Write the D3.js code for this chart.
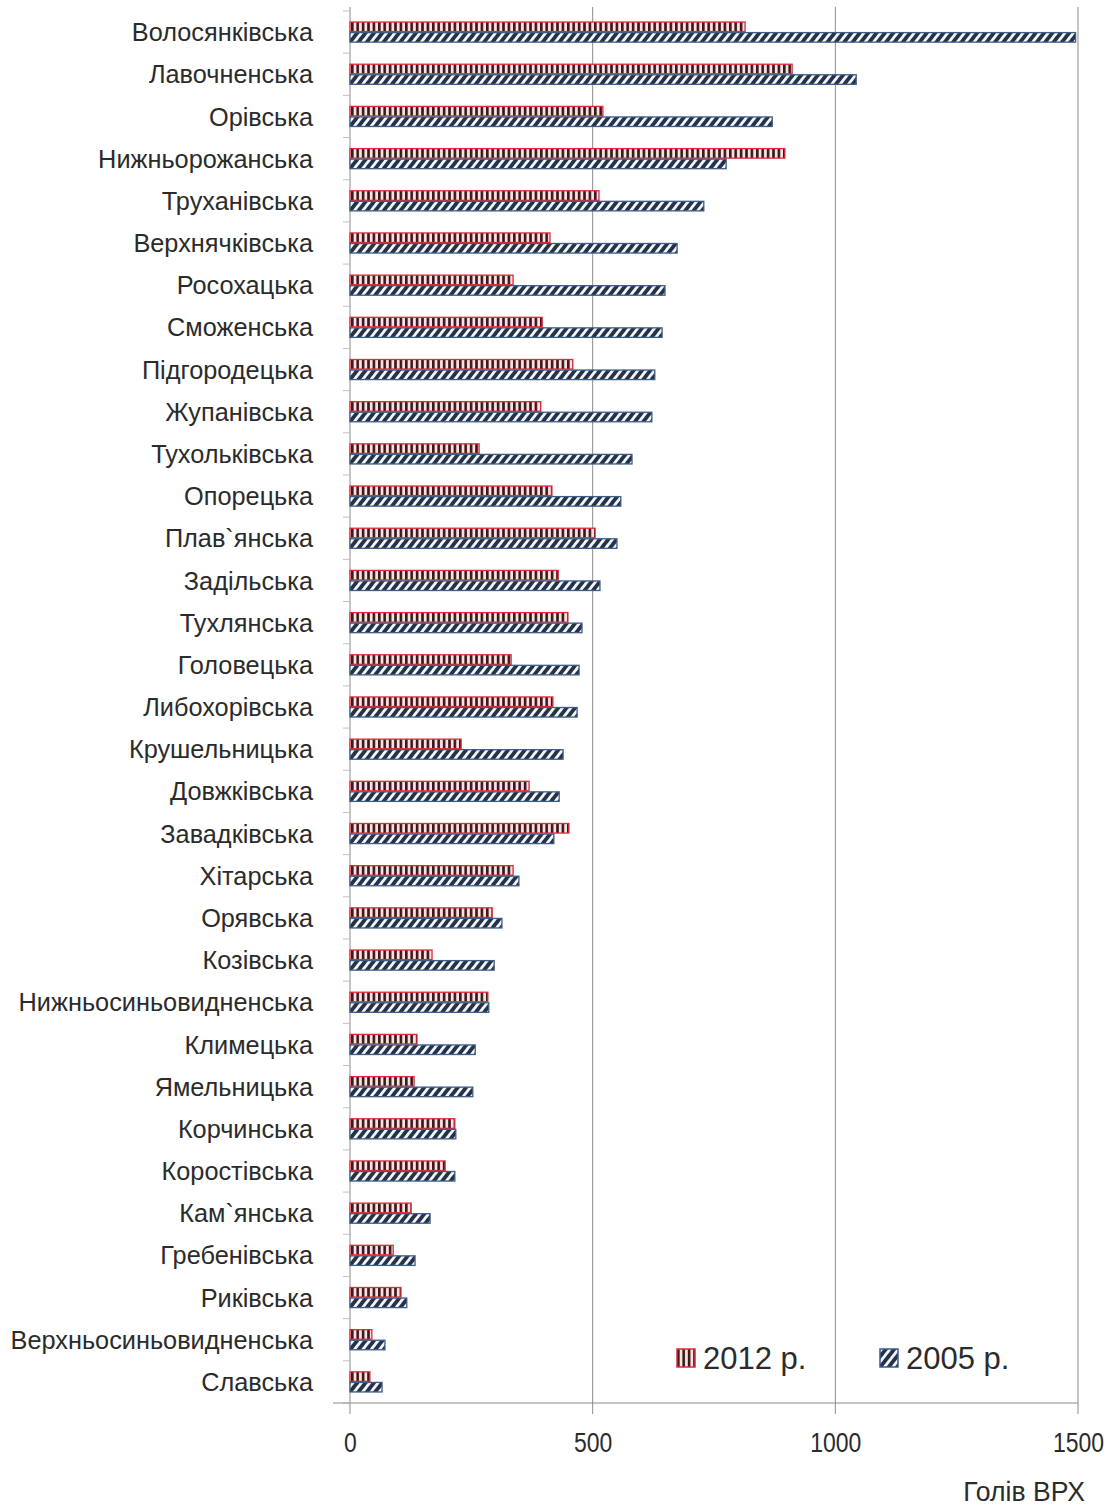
<!DOCTYPE html>
<html>
<head>
<meta charset="utf-8">
<script src="https://cdn.jsdelivr.net/npm/d3@7"></script>
<style>
  html, body { margin: 0; padding: 0; background: #fff; }
  svg { display: block; }
</style>
</head>
<body>
<svg id="chart" width="1117" height="1508"></svg>
<script>
// Village councils (сільради), head of cattle in 2012 and 2005
const councils = [
  "Волосянківська", "Лавочненська", "Орівська", "Нижньорожанська", "Труханівська",
  "Верхнячківська", "Росохацька", "Сможенська", "Підгородецька", "Жупанівська",
  "Тухольківська", "Опорецька", "Плав`янська", "Задільська", "Тухлянська",
  "Головецька", "Либохорівська", "Крушельницька", "Довжківська", "Завадківська",
  "Хітарська", "Орявська", "Козівська", "Нижньосиньовидненська", "Климецька",
  "Ямельницька", "Корчинська", "Коростівська", "Кам`янська", "Гребенівська",
  "Риківська", "Верхньосиньовидненська", "Славська"
];
const values2012 = [
  814, 911, 521, 896, 513,
  412, 336, 396, 459, 393,
  266, 416, 505, 429, 449,
  332, 418, 229, 369, 451,
  336, 293, 169, 284, 138,
  132, 216, 196, 126, 89,
  105, 45, 41
];
const values2005 = [
  1495, 1043, 870, 775, 729,
  674, 649, 643, 628, 622,
  581, 558, 550, 515, 478,
  472, 468, 439, 431, 420,
  348, 313, 297, 286, 258,
  253, 218, 216, 165, 134,
  117, 72, 66
];
const seriesKeys = ["2012", "2005"];
const seriesLabels = ["2012 р.", "2005 р."];
const xTicks = [0, 500, 1000, 1500];
const axisTitle = "Голів ВРХ";

const rows = councils.map((name, i) => ({ name, "2012": values2012[i], "2005": values2005[i] }));

const svg = d3.select("#chart");
const plot = { left: 350, right: 1078, top: 11, bottom: 1403 };
const font = "'Liberation Sans', Arial, sans-serif";

const x = d3.scaleLinear().domain([0, 1500]).range([plot.left, plot.right]);
const y = d3.scaleBand().domain(councils).range([plot.top, plot.bottom])
  .paddingInner(0.5).paddingOuter(0.25);
const ySub = d3.scaleBand().domain(seriesKeys).range([0, y.bandwidth()]);

// Fill patterns: vertical bars for 2012, diagonal hatch for 2005
const defs = svg.append("defs");
const pv = defs.append("pattern").attr("id", "pat2012")
  .attr("patternUnits", "userSpaceOnUse").attr("width", 5.4).attr("height", 10);
pv.append("rect").attr("width", 5.4).attr("height", 10).attr("fill", "#f6e1e3");
pv.append("rect").attr("x", 0).attr("width", 2.6).attr("height", 10).attr("fill", "#3d1619");

const pd = defs.append("pattern").attr("id", "pat2005")
  .attr("patternUnits", "userSpaceOnUse").attr("width", 6.6).attr("height", 10)
  .attr("patternTransform", "rotate(38)");
pd.append("rect").attr("width", 6.6).attr("height", 10).attr("fill", "#24334a");
pd.append("rect").attr("x", 0).attr("width", 2.8).attr("height", 10).attr("fill", "#f4f6fa");

const fills = { "2012": "url(#pat2012)", "2005": "url(#pat2005)" };
const strokes = { "2012": "#e2283a", "2005": "#3d5c86" };

// Vertical gridlines at each tick
svg.append("g").selectAll("line").data(xTicks.slice(1)).join("line")
  .attr("x1", d => x(d)).attr("x2", d => x(d))
  .attr("y1", plot.top - 4).attr("y2", plot.bottom + 11)
  .attr("stroke", "#8c8c8c").attr("stroke-width", 1);

// Category axis (left) with short ticks on band boundaries
const yAxisG = svg.append("g");
yAxisG.append("line")
  .attr("x1", plot.left).attr("x2", plot.left)
  .attr("y1", plot.top - 4).attr("y2", plot.bottom + 11)
  .attr("stroke", "#8c8c8c");
const boundaries = councils.map(c => y(c) - y.step() * y.paddingInner() / 2);
boundaries.push(plot.bottom);
yAxisG.selectAll("line.tk").data(boundaries).join("line").attr("class", "tk")
  .attr("x1", plot.left - 7).attr("x2", plot.left)
  .attr("y1", d => d).attr("y2", d => d)
  .attr("stroke", "#b8c4cc");

// Bars
const groups = svg.append("g").selectAll("g").data(rows).join("g")
  .attr("transform", d => `translate(0,${y(d.name)})`);
groups.selectAll("rect").data(d => seriesKeys.map(k => ({ key: k, value: d[k] }))).join("rect")
  .attr("x", x(0))
  .attr("y", d => ySub(d.key) + 0.5)
  .attr("width", d => x(d.value) - x(0))
  .attr("height", ySub.bandwidth() - 1)
  .attr("fill", d => fills[d.key])
  .attr("stroke", d => strokes[d.key])
  .attr("stroke-width", 1.3);

// Category labels
svg.append("g").selectAll("text").data(councils).join("text")
  .attr("x", 313).attr("y", d => y(d) + y.bandwidth() / 2)
  .attr("dy", "0.36em")
  .attr("text-anchor", "end")
  .attr("font-family", font)
  .attr("font-size", 25.3)
  .attr("fill", "#2b2b2b")
  .text(d => d);

// Value axis at the bottom (condensed numerals)
const xAxis = d3.axisBottom(x).tickValues(xTicks).tickFormat(d3.format("d"))
  .tickSize(0).tickPadding(0);
const xAxisG = svg.append("g").attr("transform", `translate(0,${plot.bottom})`).call(xAxis);
xAxisG.select(".domain").remove();
xAxisG.append("line").attr("x1", plot.left - 17).attr("x2", plot.right)
  .attr("stroke", "#8c8c8c");
xAxisG.selectAll(".tick text")
  .attr("y", 0).attr("dy", 0)
  .attr("transform", "translate(0,49) scale(0.82,1)")
  .attr("font-family", font)
  .attr("font-size", 28)
  .attr("fill", "#2b2b2b");

svg.append("text")
  .attr("transform", "translate(1085,1501) scale(0.95,1)")
  .attr("text-anchor", "end")
  .attr("font-family", font)
  .attr("font-size", 28)
  .attr("fill", "#2b2b2b")
  .text(axisTitle);

// Legend
const legendX = [677, 880];
const legend = svg.append("g").selectAll("g").data(seriesKeys).join("g")
  .attr("transform", (d, i) => `translate(${legendX[i]},1349)`);
legend.append("rect")
  .attr("width", 18).attr("height", 18)
  .attr("fill", d => fills[d]).attr("stroke", d => strokes[d]).attr("stroke-width", 1.5);
legend.append("text")
  .attr("x", 26).attr("y", 20)
  .attr("font-family", font)
  .attr("font-size", 31)
  .attr("fill", "#2b2b2b")
  .text((d, i) => seriesLabels[i]);
</script>
</body>
</html>
